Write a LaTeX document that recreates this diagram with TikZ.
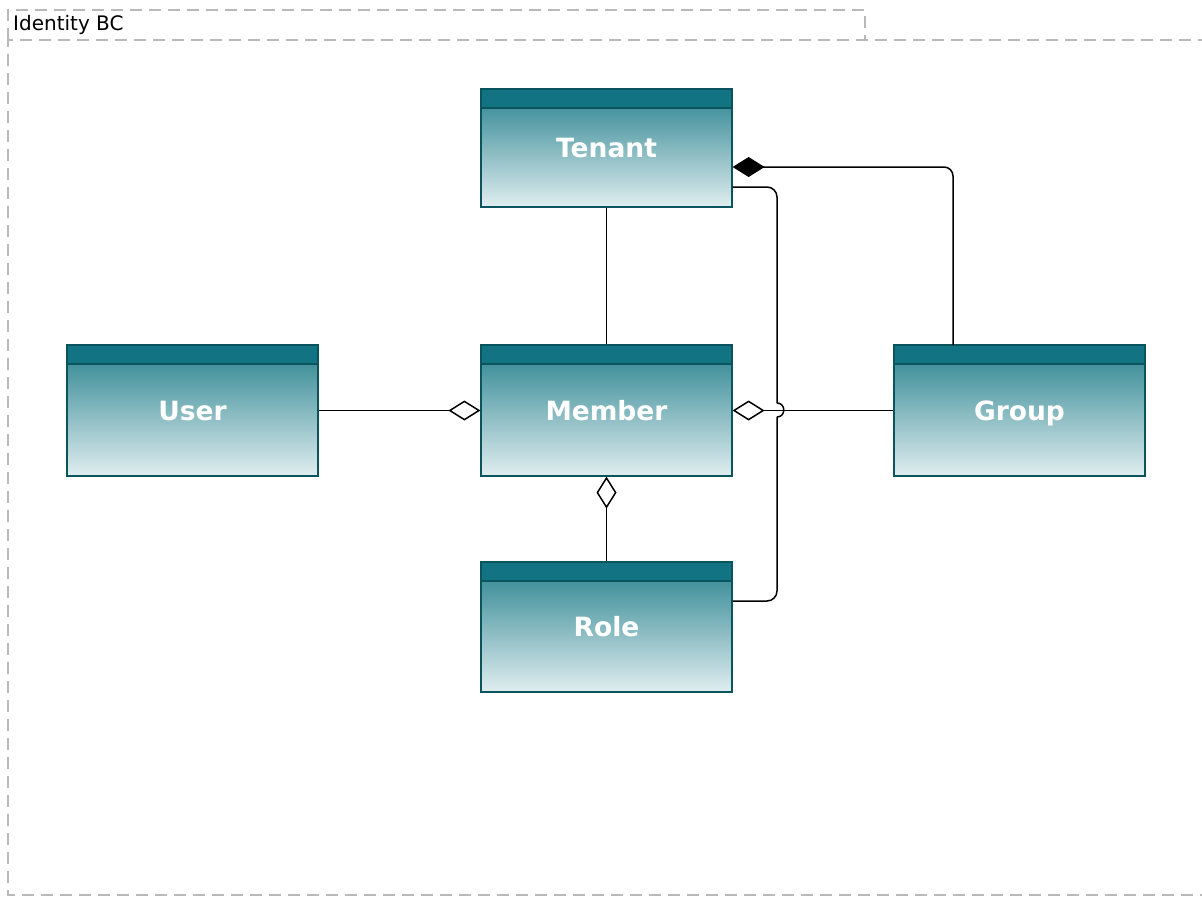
\documentclass[tikz,border=0pt]{standalone}
\usepackage{fontspec}
\setmainfont{DejaVu Sans}
\usetikzlibrary{arrows.meta}
\definecolor{hdr}{RGB}{18,116,130}
\definecolor{bodytop}{RGB}{40,130,142}
\definecolor{bodybot}{RGB}{224,238,240}
\definecolor{bdr}{RGB}{10,84,94}
\definecolor{frame}{RGB}{185,185,185}
\tikzset{
  cls/.style={draw=bdr, line width=1.2pt, top color=bodytop, bottom color=bodybot,
    minimum width=251pt, minimum height=#1, inner sep=0pt,
    text height=19pt, text depth=0pt,
    font=\fontsize{26.5}{30}\selectfont\bfseries, text=white,
    path picture={
      \fill[hdr] (path picture bounding box.north west) rectangle ([yshift=-19pt]path picture bounding box.north east);
      \draw[bdr, line width=1.2pt] ([yshift=-19pt]path picture bounding box.north west) -- ([yshift=-19pt]path picture bounding box.north east);
    }},
  conn/.style={draw=black, line width=1.5pt},
  odiam/.style={-{Diamond[open, length=32pt, width=20pt, line width=1.5pt]}},
  fdiam/.style={-{Diamond[length=32pt, width=20pt]}},
  framebox/.style={draw=frame, line width=1.1pt, dash pattern=on 12pt off 7pt},
}
\begin{document}
\begin{tikzpicture}[x=1pt,y=-1pt]
\useasboundingbox (0,0) rectangle (1202,897);
% frame
\draw[framebox] (8,40) -- (8,10) -- (865,10) -- (865,40);
\draw[framebox] (1210,40) -- (8,40) -- (8,895) -- (1210,895);
\node[anchor=west, inner sep=0pt, font=\fontsize{20}{24}\selectfont] (title) at (13,25) {Identity BC};
% classes
\node[cls=118pt] (tenant) at (606.5,148) {Tenant};
\node[cls=131pt] (user) at (192.5,410.5) {User};
\node[cls=131pt] (member) at (606.5,410.5) {Member};
\node[cls=131pt] (group) at (1019.5,410.5) {Group};
\node[cls=130pt] (role) at (606.5,627) {Role};
% coordinates
\coordinate (tg1) at (tenant.east |- 0,167);
\coordinate (tr1) at (tenant.east |- 0,187);
\coordinate (rr1) at (role.east |- 0,601);
\coordinate (gtop) at (953,345);
\coordinate (hopa) at (777,403);
\coordinate (hopb) at (777,417);
% connectors
\draw[conn] (tenant.south) -- (member.north);
\draw[conn, odiam] (user.east) -- (member.west);
\draw[conn, odiam] (role.north) -- (member.south);
\draw[conn, odiam] (group.west) -- (member.east);
\draw[conn, fdiam, rounded corners=9pt] (gtop) -- (953,167) -- (tg1);
\draw[conn, rounded corners=10pt] (tr1) -- (777,187) -- (hopa);
\draw[conn] (hopa) .. controls (786,403) and (786,417) .. (hopb);
\draw[conn, rounded corners=10pt] (hopb) -- (777,601) -- (rr1);
\end{tikzpicture}
\end{document}
